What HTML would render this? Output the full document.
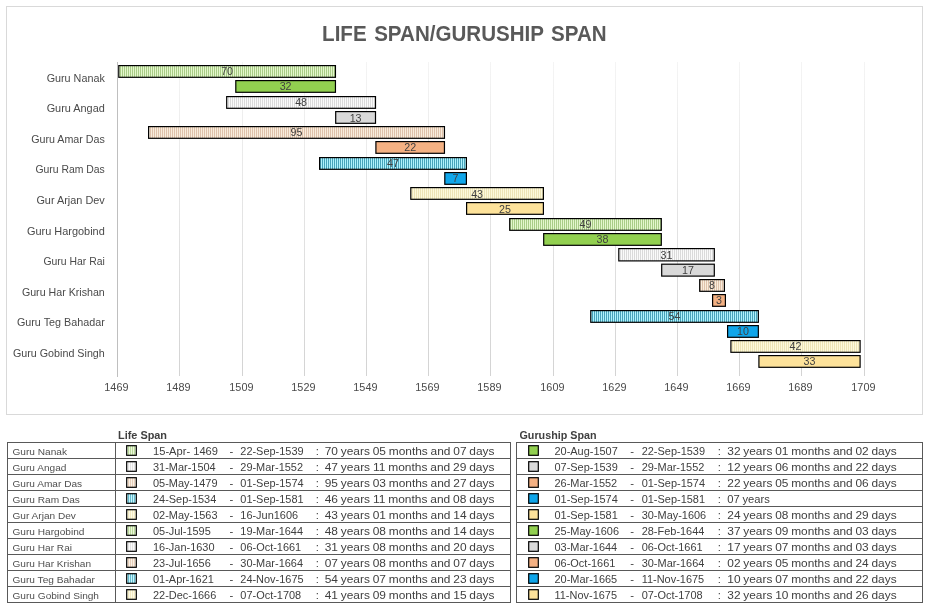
<!DOCTYPE html>
<html lang="en"><head><meta charset="utf-8"><title>Life Span / Guruship Span</title>
<style>html,body{margin:0;padding:0;background:#fff;}svg{display:block;will-change:transform;}text{font-family:"Liberation Sans",sans-serif;}.cat{font-size:10.7px;fill:#4a4a4a;text-anchor:end;}.ax{font-size:10.7px;fill:#4a4a4a;text-anchor:middle;}.dl{font-size:10.7px;fill:#404040;text-anchor:middle;}.ttl{font-size:22.9px;word-spacing:2px;font-weight:bold;fill:#595959;text-anchor:middle;}.hd{font-size:10.9px;font-weight:bold;fill:#404040;}.nm{font-size:9.9px;fill:#4f4f4f;}.tx{font-size:11.3px;fill:#404040;}.du{word-spacing:-0.5px;}</style></head><body>
<svg width="929" height="611" viewBox="0 0 929 611">
<defs>
<pattern id="h0" width="2" height="2" patternUnits="userSpaceOnUse"><rect width="2" height="2" fill="#e4f7cd"/><rect width="1" height="2" fill="#a9cc87"/></pattern>
<pattern id="h1" width="2" height="2" patternUnits="userSpaceOnUse"><rect width="2" height="2" fill="#fafafa"/><rect width="1" height="2" fill="#dadada"/></pattern>
<pattern id="h2" width="2" height="2" patternUnits="userSpaceOnUse"><rect width="2" height="2" fill="#f9eddd"/><rect width="1" height="2" fill="#dfc2ab"/></pattern>
<pattern id="h3" width="2" height="2" patternUnits="userSpaceOnUse"><rect width="2" height="2" fill="#b0f2fc"/><rect width="1" height="2" fill="#47a3ba"/></pattern>
<pattern id="h4" width="2" height="2" patternUnits="userSpaceOnUse"><rect width="2" height="2" fill="#fdf9dc"/><rect width="1" height="2" fill="#ede4b6"/></pattern>
<pattern id="s0" width="2" height="2" patternUnits="userSpaceOnUse"><rect width="2" height="2" fill="#ecf9dc"/><rect width="1" height="2" fill="#bbd99c"/></pattern>
<pattern id="s1" width="2" height="2" patternUnits="userSpaceOnUse"><rect width="2" height="2" fill="#fcfcfc"/><rect width="1" height="2" fill="#e4e4e4"/></pattern>
<pattern id="s2" width="2" height="2" patternUnits="userSpaceOnUse"><rect width="2" height="2" fill="#fbf2e7"/><rect width="1" height="2" fill="#e7cfba"/></pattern>
<pattern id="s3" width="2" height="2" patternUnits="userSpaceOnUse"><rect width="2" height="2" fill="#c8f6fd"/><rect width="1" height="2" fill="#66bbce"/></pattern>
<pattern id="s4" width="2" height="2" patternUnits="userSpaceOnUse"><rect width="2" height="2" fill="#fefbe6"/><rect width="1" height="2" fill="#f2eac1"/></pattern>
<linearGradient id="gg" gradientUnits="userSpaceOnUse" x1="0" y1="62" x2="0" y2="376"><stop offset="0" stop-color="#f4f4f4"/><stop offset="1" stop-color="#d3d3d3"/></linearGradient>
</defs>
<rect width="929" height="611" fill="#fff"/>
<rect x="6.5" y="6.5" width="916" height="408" fill="#fff" stroke="#d9d9d9" stroke-width="1"/>
<line x1="179.5" y1="62" x2="179.5" y2="376" stroke="url(#gg)" stroke-width="1"/>
<line x1="242.5" y1="62" x2="242.5" y2="376" stroke="url(#gg)" stroke-width="1"/>
<line x1="304.5" y1="62" x2="304.5" y2="376" stroke="url(#gg)" stroke-width="1"/>
<line x1="366.5" y1="62" x2="366.5" y2="376" stroke="url(#gg)" stroke-width="1"/>
<line x1="428.5" y1="62" x2="428.5" y2="376" stroke="url(#gg)" stroke-width="1"/>
<line x1="490.5" y1="62" x2="490.5" y2="376" stroke="url(#gg)" stroke-width="1"/>
<line x1="553.5" y1="62" x2="553.5" y2="376" stroke="url(#gg)" stroke-width="1"/>
<line x1="615.5" y1="62" x2="615.5" y2="376" stroke="url(#gg)" stroke-width="1"/>
<line x1="677.5" y1="62" x2="677.5" y2="376" stroke="url(#gg)" stroke-width="1"/>
<line x1="739.5" y1="62" x2="739.5" y2="376" stroke="url(#gg)" stroke-width="1"/>
<line x1="801.5" y1="62" x2="801.5" y2="376" stroke="url(#gg)" stroke-width="1"/>
<line x1="864.5" y1="62" x2="864.5" y2="376" stroke="url(#gg)" stroke-width="1"/>
<line x1="117.5" y1="62" x2="117.5" y2="377" stroke="#bfbfbf" stroke-width="1"/>
<text class="ttl" x="464.4" y="41.1" textLength="284.6" lengthAdjust="spacingAndGlyphs">LIFE SPAN/GURUSHIP SPAN</text>
<rect x="118.80" y="65.60" width="216.65" height="11.7" fill="url(#h0)" stroke="#000" stroke-width="1.2"/>
<text class="dl" x="227.12" y="75">70</text>
<rect x="235.80" y="80.60" width="99.65" height="11.7" fill="#92d050" stroke="#000" stroke-width="1.2"/>
<text class="dl" x="285.62" y="90">32</text>
<text class="cat" x="104.8" y="82" textLength="58.15" lengthAdjust="spacingAndGlyphs">Guru Nanak</text>
<rect x="226.70" y="96.60" width="148.80" height="11.7" fill="url(#h1)" stroke="#000" stroke-width="1.2"/>
<text class="dl" x="301.10" y="106">48</text>
<rect x="335.70" y="111.60" width="39.80" height="11.7" fill="#d9d9d9" stroke="#000" stroke-width="1.2"/>
<text class="dl" x="355.60" y="122">13</text>
<text class="cat" x="104.8" y="112" textLength="58.15" lengthAdjust="spacingAndGlyphs">Guru Angad</text>
<rect x="148.60" y="126.60" width="295.85" height="11.7" fill="url(#h2)" stroke="#000" stroke-width="1.2"/>
<text class="dl" x="296.52" y="136">95</text>
<rect x="375.91" y="141.60" width="68.54" height="11.7" fill="#f4b183" stroke="#000" stroke-width="1.2"/>
<text class="dl" x="410.18" y="151">22</text>
<text class="cat" x="104.8" y="143" textLength="73.65" lengthAdjust="spacingAndGlyphs">Guru Amar Das</text>
<rect x="319.60" y="157.60" width="146.80" height="11.7" fill="url(#h3)" stroke="#000" stroke-width="1.2"/>
<text class="dl" x="393.00" y="167">47</text>
<rect x="444.80" y="172.60" width="21.60" height="11.7" fill="#10a6ea" stroke="#000" stroke-width="1.2"/>
<text class="dl" x="455.60" y="182">7</text>
<text class="cat" x="104.8" y="173" textLength="69.4" lengthAdjust="spacingAndGlyphs">Guru Ram Das</text>
<rect x="410.80" y="187.60" width="132.60" height="11.7" fill="url(#h4)" stroke="#000" stroke-width="1.2"/>
<text class="dl" x="477.10" y="198">43</text>
<rect x="466.60" y="202.60" width="76.80" height="11.7" fill="#fde29a" stroke="#000" stroke-width="1.2"/>
<text class="dl" x="505.00" y="213">25</text>
<text class="cat" x="104.8" y="204" textLength="68.4" lengthAdjust="spacingAndGlyphs">Gur Arjan Dev</text>
<rect x="509.70" y="218.60" width="151.60" height="11.7" fill="url(#h0)" stroke="#000" stroke-width="1.2"/>
<text class="dl" x="585.50" y="228">49</text>
<rect x="543.70" y="233.60" width="117.60" height="11.7" fill="#92d050" stroke="#000" stroke-width="1.2"/>
<text class="dl" x="602.50" y="243">38</text>
<text class="cat" x="104.8" y="235" textLength="77.9" lengthAdjust="spacingAndGlyphs">Guru Hargobind</text>
<rect x="618.80" y="248.60" width="95.50" height="12.3" fill="url(#h1)" stroke="#000" stroke-width="1.2"/>
<text class="dl" x="666.55" y="259">31</text>
<rect x="661.70" y="264.20" width="52.60" height="11.9" fill="#d9d9d9" stroke="#000" stroke-width="1.2"/>
<text class="dl" x="688.00" y="274">17</text>
<text class="cat" x="104.8" y="265" textLength="61.4" lengthAdjust="spacingAndGlyphs">Guru Har Rai</text>
<rect x="699.70" y="279.60" width="24.70" height="11.7" fill="url(#h2)" stroke="#000" stroke-width="1.2"/>
<text class="dl" x="712.05" y="289">8</text>
<rect x="712.60" y="294.60" width="12.80" height="11.7" fill="#f4b183" stroke="#000" stroke-width="1.2"/>
<text class="dl" x="719.00" y="304">3</text>
<text class="cat" x="104.8" y="296" textLength="82.9" lengthAdjust="spacingAndGlyphs">Guru Har Krishan</text>
<rect x="590.77" y="310.60" width="167.58" height="11.7" fill="url(#h3)" stroke="#000" stroke-width="1.2"/>
<text class="dl" x="674.56" y="320">54</text>
<rect x="727.60" y="325.60" width="30.75" height="11.7" fill="#10a6ea" stroke="#000" stroke-width="1.2"/>
<text class="dl" x="742.98" y="335">10</text>
<text class="cat" x="104.8" y="326" textLength="87.9" lengthAdjust="spacingAndGlyphs">Guru Teg Bahadar</text>
<rect x="730.90" y="340.60" width="129.20" height="11.7" fill="url(#h4)" stroke="#000" stroke-width="1.2"/>
<text class="dl" x="795.50" y="350">42</text>
<rect x="758.92" y="355.60" width="101.18" height="11.7" fill="#fde29a" stroke="#000" stroke-width="1.2"/>
<text class="dl" x="809.51" y="365">33</text>
<text class="cat" x="104.8" y="357" textLength="91.9" lengthAdjust="spacingAndGlyphs">Guru Gobind Singh</text>
<text class="ax" x="116.40" y="390.6" textLength="24.1" lengthAdjust="spacingAndGlyphs">1469</text>
<text class="ax" x="178.40" y="390.6" textLength="24.1" lengthAdjust="spacingAndGlyphs">1489</text>
<text class="ax" x="241.40" y="390.6" textLength="24.1" lengthAdjust="spacingAndGlyphs">1509</text>
<text class="ax" x="303.40" y="390.6" textLength="24.1" lengthAdjust="spacingAndGlyphs">1529</text>
<text class="ax" x="365.40" y="390.6" textLength="24.1" lengthAdjust="spacingAndGlyphs">1549</text>
<text class="ax" x="427.40" y="390.6" textLength="24.1" lengthAdjust="spacingAndGlyphs">1569</text>
<text class="ax" x="489.40" y="390.6" textLength="24.1" lengthAdjust="spacingAndGlyphs">1589</text>
<text class="ax" x="552.40" y="390.6" textLength="24.1" lengthAdjust="spacingAndGlyphs">1609</text>
<text class="ax" x="614.40" y="390.6" textLength="24.1" lengthAdjust="spacingAndGlyphs">1629</text>
<text class="ax" x="676.40" y="390.6" textLength="24.1" lengthAdjust="spacingAndGlyphs">1649</text>
<text class="ax" x="738.40" y="390.6" textLength="24.1" lengthAdjust="spacingAndGlyphs">1669</text>
<text class="ax" x="800.40" y="390.6" textLength="24.1" lengthAdjust="spacingAndGlyphs">1689</text>
<text class="ax" x="863.40" y="390.6" textLength="24.1" lengthAdjust="spacingAndGlyphs">1709</text>
<rect x="7.5" y="442.5" width="503.0" height="160" fill="#fff" stroke="#595959" stroke-width="1"/>
<line x1="7.5" y1="458.5" x2="510.5" y2="458.5" stroke="#595959" stroke-width="1"/>
<line x1="7.5" y1="474.5" x2="510.5" y2="474.5" stroke="#595959" stroke-width="1"/>
<line x1="7.5" y1="490.5" x2="510.5" y2="490.5" stroke="#595959" stroke-width="1"/>
<line x1="7.5" y1="506.5" x2="510.5" y2="506.5" stroke="#595959" stroke-width="1"/>
<line x1="7.5" y1="522.5" x2="510.5" y2="522.5" stroke="#595959" stroke-width="1"/>
<line x1="7.5" y1="538.5" x2="510.5" y2="538.5" stroke="#595959" stroke-width="1"/>
<line x1="7.5" y1="554.5" x2="510.5" y2="554.5" stroke="#595959" stroke-width="1"/>
<line x1="7.5" y1="570.5" x2="510.5" y2="570.5" stroke="#595959" stroke-width="1"/>
<line x1="7.5" y1="586.5" x2="510.5" y2="586.5" stroke="#595959" stroke-width="1"/>
<line x1="115.5" y1="442.5" x2="115.5" y2="602.5" stroke="#595959" stroke-width="1"/>
<rect x="516.5" y="442.5" width="406.0" height="160" fill="#fff" stroke="#595959" stroke-width="1"/>
<line x1="516.5" y1="458.5" x2="922.5" y2="458.5" stroke="#595959" stroke-width="1"/>
<line x1="516.5" y1="474.5" x2="922.5" y2="474.5" stroke="#595959" stroke-width="1"/>
<line x1="516.5" y1="490.5" x2="922.5" y2="490.5" stroke="#595959" stroke-width="1"/>
<line x1="516.5" y1="506.5" x2="922.5" y2="506.5" stroke="#595959" stroke-width="1"/>
<line x1="516.5" y1="522.5" x2="922.5" y2="522.5" stroke="#595959" stroke-width="1"/>
<line x1="516.5" y1="538.5" x2="922.5" y2="538.5" stroke="#595959" stroke-width="1"/>
<line x1="516.5" y1="554.5" x2="922.5" y2="554.5" stroke="#595959" stroke-width="1"/>
<line x1="516.5" y1="570.5" x2="922.5" y2="570.5" stroke="#595959" stroke-width="1"/>
<line x1="516.5" y1="586.5" x2="922.5" y2="586.5" stroke="#595959" stroke-width="1"/>
<text class="hd" x="118" y="438.7" textLength="49" lengthAdjust="spacingAndGlyphs">Life Span</text>
<text class="hd" x="519.5" y="438.7" textLength="77" lengthAdjust="spacingAndGlyphs">Guruship Span</text>
<text class="nm" x="12.5" y="454.7" textLength="54.5" lengthAdjust="spacingAndGlyphs">Guru Nanak</text>
<rect x="126.7" y="445.7" width="9.6" height="9.6" fill="url(#s0)" stroke="#000" stroke-width="1.2"/>
<text class="tx" x="153" y="454.7" textLength="65" lengthAdjust="spacingAndGlyphs">15-Apr- 1469</text>
<text class="tx" x="229.5" y="454.7">-</text>
<text class="tx" x="240.3" y="454.7" textLength="63.3" lengthAdjust="spacingAndGlyphs">22-Sep-1539</text>
<text class="tx" x="315.8" y="454.7">:</text>
<text class="tx du" x="324.7" y="454.7" textLength="169.8" lengthAdjust="spacingAndGlyphs">70 years 05 months and 07 days</text>
<rect x="528.7" y="445.7" width="9.6" height="9.6" fill="#92d050" stroke="#000" stroke-width="1.2"/>
<text class="tx" x="554.5" y="454.7" textLength="63.3" lengthAdjust="spacingAndGlyphs">20-Aug-1507</text>
<text class="tx" x="630.3" y="454.7">-</text>
<text class="tx" x="641.7" y="454.7" textLength="63.3" lengthAdjust="spacingAndGlyphs">22-Sep-1539</text>
<text class="tx" x="717.8" y="454.7">:</text>
<text class="tx du" x="727.3" y="454.7" textLength="169.3" lengthAdjust="spacingAndGlyphs">32 years 01 months and 02 days</text>
<text class="nm" x="12.5" y="470.7" textLength="53.9" lengthAdjust="spacingAndGlyphs">Guru Angad</text>
<rect x="126.7" y="461.7" width="9.6" height="9.6" fill="url(#s1)" stroke="#000" stroke-width="1.2"/>
<text class="tx" x="153" y="470.7" textLength="62.7" lengthAdjust="spacingAndGlyphs">31-Mar-1504</text>
<text class="tx" x="229.5" y="470.7">-</text>
<text class="tx" x="240.3" y="470.7" textLength="62.7" lengthAdjust="spacingAndGlyphs">29-Mar-1552</text>
<text class="tx" x="315.8" y="470.7">:</text>
<text class="tx du" x="324.7" y="470.7" textLength="169.8" lengthAdjust="spacingAndGlyphs">47 years 11 months and 29 days</text>
<rect x="528.7" y="461.7" width="9.6" height="9.6" fill="#d9d9d9" stroke="#000" stroke-width="1.2"/>
<text class="tx" x="554.5" y="470.7" textLength="63.3" lengthAdjust="spacingAndGlyphs">07-Sep-1539</text>
<text class="tx" x="630.3" y="470.7">-</text>
<text class="tx" x="641.7" y="470.7" textLength="62.7" lengthAdjust="spacingAndGlyphs">29-Mar-1552</text>
<text class="tx" x="717.8" y="470.7">:</text>
<text class="tx du" x="727.3" y="470.7" textLength="169.3" lengthAdjust="spacingAndGlyphs">12 years 06 months and 22 days</text>
<text class="nm" x="12.5" y="486.7" textLength="69.6" lengthAdjust="spacingAndGlyphs">Guru Amar Das</text>
<rect x="126.7" y="477.7" width="9.6" height="9.6" fill="url(#s2)" stroke="#000" stroke-width="1.2"/>
<text class="tx" x="153" y="486.7" textLength="64.5" lengthAdjust="spacingAndGlyphs">05-May-1479</text>
<text class="tx" x="229.5" y="486.7">-</text>
<text class="tx" x="240.3" y="486.7" textLength="63.3" lengthAdjust="spacingAndGlyphs">01-Sep-1574</text>
<text class="tx" x="315.8" y="486.7">:</text>
<text class="tx du" x="324.7" y="486.7" textLength="169.8" lengthAdjust="spacingAndGlyphs">95 years 03 months and 27 days</text>
<rect x="528.7" y="477.7" width="9.6" height="9.6" fill="#f4b183" stroke="#000" stroke-width="1.2"/>
<text class="tx" x="554.5" y="486.7" textLength="62.7" lengthAdjust="spacingAndGlyphs">26-Mar-1552</text>
<text class="tx" x="630.3" y="486.7">-</text>
<text class="tx" x="641.7" y="486.7" textLength="63.3" lengthAdjust="spacingAndGlyphs">01-Sep-1574</text>
<text class="tx" x="717.8" y="486.7">:</text>
<text class="tx du" x="727.3" y="486.7" textLength="169.3" lengthAdjust="spacingAndGlyphs">22 years 05 months and 06 days</text>
<text class="nm" x="12.5" y="502.7" textLength="67.4" lengthAdjust="spacingAndGlyphs">Guru Ram Das</text>
<rect x="126.7" y="493.7" width="9.6" height="9.6" fill="url(#s3)" stroke="#000" stroke-width="1.2"/>
<text class="tx" x="153" y="502.7" textLength="63.3" lengthAdjust="spacingAndGlyphs">24-Sep-1534</text>
<text class="tx" x="229.5" y="502.7">-</text>
<text class="tx" x="240.3" y="502.7" textLength="63.3" lengthAdjust="spacingAndGlyphs">01-Sep-1581</text>
<text class="tx" x="315.8" y="502.7">:</text>
<text class="tx du" x="324.7" y="502.7" textLength="169.8" lengthAdjust="spacingAndGlyphs">46 years 11 months and 08 days</text>
<rect x="528.7" y="493.7" width="9.6" height="9.6" fill="#10a6ea" stroke="#000" stroke-width="1.2"/>
<text class="tx" x="554.5" y="502.7" textLength="63.3" lengthAdjust="spacingAndGlyphs">01-Sep-1574</text>
<text class="tx" x="630.3" y="502.7">-</text>
<text class="tx" x="641.7" y="502.7" textLength="63.3" lengthAdjust="spacingAndGlyphs">01-Sep-1581</text>
<text class="tx" x="717.8" y="502.7">:</text>
<text class="tx du" x="727.3" y="502.7" textLength="42.5" lengthAdjust="spacingAndGlyphs">07 years</text>
<text class="nm" x="12.5" y="518.7" textLength="63.4" lengthAdjust="spacingAndGlyphs">Gur Arjan Dev</text>
<rect x="126.7" y="509.7" width="9.6" height="9.6" fill="url(#s4)" stroke="#000" stroke-width="1.2"/>
<text class="tx" x="153" y="518.7" textLength="64.5" lengthAdjust="spacingAndGlyphs">02-May-1563</text>
<text class="tx" x="229.5" y="518.7">-</text>
<text class="tx" x="240.3" y="518.7" textLength="57.8" lengthAdjust="spacingAndGlyphs">16-Jun1606</text>
<text class="tx" x="315.8" y="518.7">:</text>
<text class="tx du" x="324.7" y="518.7" textLength="169.8" lengthAdjust="spacingAndGlyphs">43 years 01 months and 14 days</text>
<rect x="528.7" y="509.7" width="9.6" height="9.6" fill="#fde29a" stroke="#000" stroke-width="1.2"/>
<text class="tx" x="554.5" y="518.7" textLength="63.3" lengthAdjust="spacingAndGlyphs">01-Sep-1581</text>
<text class="tx" x="630.3" y="518.7">-</text>
<text class="tx" x="641.7" y="518.7" textLength="64.5" lengthAdjust="spacingAndGlyphs">30-May-1606</text>
<text class="tx" x="717.8" y="518.7">:</text>
<text class="tx du" x="727.3" y="518.7" textLength="169.3" lengthAdjust="spacingAndGlyphs">24 years 08 months and 29 days</text>
<text class="nm" x="12.5" y="534.7" textLength="71.9" lengthAdjust="spacingAndGlyphs">Guru Hargobind</text>
<rect x="126.7" y="525.7" width="9.6" height="9.6" fill="url(#s0)" stroke="#000" stroke-width="1.2"/>
<text class="tx" x="153" y="534.7" textLength="57.8" lengthAdjust="spacingAndGlyphs">05-Jul-1595</text>
<text class="tx" x="229.5" y="534.7">-</text>
<text class="tx" x="240.3" y="534.7" textLength="62.7" lengthAdjust="spacingAndGlyphs">19-Mar-1644</text>
<text class="tx" x="315.8" y="534.7">:</text>
<text class="tx du" x="324.7" y="534.7" textLength="169.8" lengthAdjust="spacingAndGlyphs">48 years 08 months and 14 days</text>
<rect x="528.7" y="525.7" width="9.6" height="9.6" fill="#92d050" stroke="#000" stroke-width="1.2"/>
<text class="tx" x="554.5" y="534.7" textLength="64.5" lengthAdjust="spacingAndGlyphs">25-May-1606</text>
<text class="tx" x="630.3" y="534.7">-</text>
<text class="tx" x="641.7" y="534.7" textLength="62.7" lengthAdjust="spacingAndGlyphs">28-Feb-1644</text>
<text class="tx" x="717.8" y="534.7">:</text>
<text class="tx du" x="727.3" y="534.7" textLength="169.3" lengthAdjust="spacingAndGlyphs">37 years 09 months and 03 days</text>
<text class="nm" x="12.5" y="550.7" textLength="59.5" lengthAdjust="spacingAndGlyphs">Guru Har Rai</text>
<rect x="126.7" y="541.7" width="9.6" height="9.6" fill="url(#s1)" stroke="#000" stroke-width="1.2"/>
<text class="tx" x="153" y="550.7" textLength="61.5" lengthAdjust="spacingAndGlyphs">16-Jan-1630</text>
<text class="tx" x="229.5" y="550.7">-</text>
<text class="tx" x="240.3" y="550.7" textLength="60.9" lengthAdjust="spacingAndGlyphs">06-Oct-1661</text>
<text class="tx" x="315.8" y="550.7">:</text>
<text class="tx du" x="324.7" y="550.7" textLength="169.8" lengthAdjust="spacingAndGlyphs">31 years 08 months and 20 days</text>
<rect x="528.7" y="541.7" width="9.6" height="9.6" fill="#d9d9d9" stroke="#000" stroke-width="1.2"/>
<text class="tx" x="554.5" y="550.7" textLength="62.7" lengthAdjust="spacingAndGlyphs">03-Mar-1644</text>
<text class="tx" x="630.3" y="550.7">-</text>
<text class="tx" x="641.7" y="550.7" textLength="60.9" lengthAdjust="spacingAndGlyphs">06-Oct-1661</text>
<text class="tx" x="717.8" y="550.7">:</text>
<text class="tx du" x="727.3" y="550.7" textLength="169.3" lengthAdjust="spacingAndGlyphs">17 years 07 months and 03 days</text>
<text class="nm" x="12.5" y="566.7" textLength="78.6" lengthAdjust="spacingAndGlyphs">Guru Har Krishan</text>
<rect x="126.7" y="557.7" width="9.6" height="9.6" fill="url(#s2)" stroke="#000" stroke-width="1.2"/>
<text class="tx" x="153" y="566.7" textLength="57.8" lengthAdjust="spacingAndGlyphs">23-Jul-1656</text>
<text class="tx" x="229.5" y="566.7">-</text>
<text class="tx" x="240.3" y="566.7" textLength="62.7" lengthAdjust="spacingAndGlyphs">30-Mar-1664</text>
<text class="tx" x="315.8" y="566.7">:</text>
<text class="tx du" x="324.7" y="566.7" textLength="169.8" lengthAdjust="spacingAndGlyphs">07 years 08 months and 07 days</text>
<rect x="528.7" y="557.7" width="9.6" height="9.6" fill="#f4b183" stroke="#000" stroke-width="1.2"/>
<text class="tx" x="554.5" y="566.7" textLength="60.9" lengthAdjust="spacingAndGlyphs">06-Oct-1661</text>
<text class="tx" x="630.3" y="566.7">-</text>
<text class="tx" x="641.7" y="566.7" textLength="62.7" lengthAdjust="spacingAndGlyphs">30-Mar-1664</text>
<text class="tx" x="717.8" y="566.7">:</text>
<text class="tx du" x="727.3" y="566.7" textLength="169.3" lengthAdjust="spacingAndGlyphs">02 years 05 months and 24 days</text>
<text class="nm" x="12.5" y="582.7" textLength="82.4" lengthAdjust="spacingAndGlyphs">Guru Teg Bahadar</text>
<rect x="126.7" y="573.7" width="9.6" height="9.6" fill="url(#s3)" stroke="#000" stroke-width="1.2"/>
<text class="tx" x="153" y="582.7" textLength="60.9" lengthAdjust="spacingAndGlyphs">01-Apr-1621</text>
<text class="tx" x="229.5" y="582.7">-</text>
<text class="tx" x="240.3" y="582.7" textLength="63.3" lengthAdjust="spacingAndGlyphs">24-Nov-1675</text>
<text class="tx" x="315.8" y="582.7">:</text>
<text class="tx du" x="324.7" y="582.7" textLength="169.8" lengthAdjust="spacingAndGlyphs">54 years 07 months and 23 days</text>
<rect x="528.7" y="573.7" width="9.6" height="9.6" fill="#10a6ea" stroke="#000" stroke-width="1.2"/>
<text class="tx" x="554.5" y="582.7" textLength="62.7" lengthAdjust="spacingAndGlyphs">20-Mar-1665</text>
<text class="tx" x="630.3" y="582.7">-</text>
<text class="tx" x="641.7" y="582.7" textLength="62.5" lengthAdjust="spacingAndGlyphs">11-Nov-1675</text>
<text class="tx" x="717.8" y="582.7">:</text>
<text class="tx du" x="727.3" y="582.7" textLength="169.3" lengthAdjust="spacingAndGlyphs">10 years 07 months and 22 days</text>
<text class="nm" x="12.5" y="598.7" textLength="86.5" lengthAdjust="spacingAndGlyphs">Guru Gobind Singh</text>
<rect x="126.7" y="589.7" width="9.6" height="9.6" fill="url(#s4)" stroke="#000" stroke-width="1.2"/>
<text class="tx" x="153" y="598.7" textLength="63.3" lengthAdjust="spacingAndGlyphs">22-Dec-1666</text>
<text class="tx" x="229.5" y="598.7">-</text>
<text class="tx" x="240.3" y="598.7" textLength="60.9" lengthAdjust="spacingAndGlyphs">07-Oct-1708</text>
<text class="tx" x="315.8" y="598.7">:</text>
<text class="tx du" x="324.7" y="598.7" textLength="169.8" lengthAdjust="spacingAndGlyphs">41 years 09 months and 15 days</text>
<rect x="528.7" y="589.7" width="9.6" height="9.6" fill="#fde29a" stroke="#000" stroke-width="1.2"/>
<text class="tx" x="554.5" y="598.7" textLength="62.5" lengthAdjust="spacingAndGlyphs">11-Nov-1675</text>
<text class="tx" x="630.3" y="598.7">-</text>
<text class="tx" x="641.7" y="598.7" textLength="60.9" lengthAdjust="spacingAndGlyphs">07-Oct-1708</text>
<text class="tx" x="717.8" y="598.7">:</text>
<text class="tx du" x="727.3" y="598.7" textLength="169.3" lengthAdjust="spacingAndGlyphs">32 years 10 months and 26 days</text>
</svg></body></html>
